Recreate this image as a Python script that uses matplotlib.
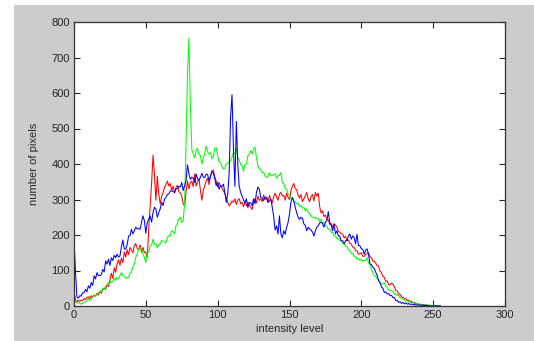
import matplotlib
matplotlib.use("Agg")
import matplotlib.pyplot as plt
from matplotlib.patches import Rectangle
import numpy as np

# per-level pixel counts for each colour channel (levels 0..255)
red = [
    40, 18, 12, 16, 13, 17, 15, 21, 18, 24,
    26, 21, 29, 25, 31, 27, 36, 31, 40, 36,
    45, 51, 47, 60, 55, 72, 92, 78, 108, 95,
    118, 130, 115, 135, 122, 152, 138, 158, 145, 165,
    158, 150, 170, 176, 162, 158, 172, 152, 165, 150,
    152, 138, 215, 280, 345, 425, 370, 298, 366, 315,
    288, 308, 320, 334, 342, 352, 338, 345, 325, 338,
    318, 334, 340, 322, 318, 310, 288, 282, 322, 352,
    330, 348, 352, 336, 372, 338, 350, 358, 326, 298,
    325, 338, 352, 360, 342, 368, 375, 383, 364, 352,
    335, 348, 338, 332, 325, 316, 305, 292, 282, 288,
    296, 292, 302, 286, 298, 302, 288, 292, 280, 295,
    282, 292, 285, 278, 272, 292, 302, 290, 310, 298,
    302, 294, 313, 300, 306, 292, 312, 298, 290, 308,
    318, 306, 298, 315, 320, 310, 312, 298, 318, 306,
    300, 325, 337, 345, 330, 328, 312, 304, 314, 294,
    302, 310, 320, 302, 294, 308, 314, 296, 320, 310,
    318, 280, 262, 268, 252, 256, 244, 242, 230, 232,
    222, 232, 228, 222, 210, 208, 204, 202, 192, 196,
    184, 186, 176, 175, 166, 165, 156, 155, 146, 147,
    150, 140, 140, 145, 148, 150, 138, 137, 126, 126,
    121, 114, 113, 98, 94, 83, 80, 70, 71, 60,
    59, 64, 62, 54, 43, 42, 34, 32, 25, 25,
    21, 20, 16, 16, 12, 13, 9, 10, 7, 6,
    5, 5, 4, 4, 3, 3, 2, 2, 2, 1,
    1, 1, 1, 0, 0, 0,
]

green = [
    15, 12, 10, 9, 8, 5, 7, 10, 12, 14,
    22, 16, 21, 24, 30, 27, 33, 35, 42, 40,
    50, 46, 56, 58, 67, 64, 70, 68, 80, 72,
    80, 76, 86, 94, 86, 84, 78, 80, 80, 92,
    97, 110, 118, 137, 146, 160, 165, 162, 146, 137,
    122, 150, 152, 170, 172, 188, 174, 175, 164, 172,
    175, 185, 183, 180, 178, 192, 198, 198, 212, 210,
    203, 226, 232, 246, 250, 235, 240, 290, 459, 656,
    755, 571, 440, 428, 418, 438, 444, 426, 424, 400,
    418, 428, 450, 434, 428, 432, 414, 422, 444, 446,
    424, 406, 405, 392, 386, 388, 400, 402, 406, 408,
    420, 432, 428, 446, 418, 412, 398, 395, 380, 398,
    400, 424, 426, 438, 428, 442, 448, 418, 396, 386,
    385, 376, 377, 366, 362, 364, 376, 368, 368, 370,
    372, 360, 367, 368, 376, 348, 344, 332, 328, 316,
    312, 303, 302, 294, 294, 288, 289, 280, 283, 276,
    277, 268, 274, 263, 262, 253, 250, 250, 247, 248,
    247, 238, 244, 234, 234, 226, 224, 216, 216, 208,
    207, 198, 197, 190, 190, 184, 184, 176, 176, 168,
    167, 158, 157, 148, 148, 140, 140, 132, 134, 128,
    132, 126, 128, 128, 136, 122, 118, 103, 94, 86,
    84, 76, 75, 66, 61, 63, 66, 56, 52, 44,
    44, 43, 42, 33, 35, 29, 30, 23, 24, 18,
    18, 14, 14, 11, 12, 9, 10, 7, 8, 5,
    5, 4, 4, 3, 3, 3, 2, 2, 1, 1,
    1, 1, 0, 0, 0, 0,
]

blue = [
    190, 100, 25, 22, 29, 28, 37, 38, 47, 40,
    57, 50, 66, 58, 85, 76, 94, 86, 85, 88,
    103, 96, 127, 118, 132, 114, 136, 128, 143, 136,
    146, 138, 141, 167, 186, 161, 160, 173, 197, 198,
    216, 203, 212, 222, 217, 218, 216, 236, 254, 240,
    205, 235, 245, 254, 236, 263, 278, 273, 250, 263,
    273, 292, 283, 301, 306, 314, 316, 324, 325, 322,
    320, 330, 330, 337, 335, 348, 325, 339, 353, 398,
    372, 357, 363, 360, 348, 372, 358, 354, 363, 374,
    363, 362, 372, 370, 353, 364, 381, 374, 358, 339,
    348, 329, 339, 337, 343, 320, 292, 315, 374, 534,
    595, 440, 337, 520, 400, 337, 320, 310, 298, 292,
    302, 277, 292, 290, 283, 302, 288, 320, 335, 329,
    306, 304, 297, 307, 306, 292, 296, 302, 278, 252,
    214, 226, 203, 254, 203, 192, 212, 202, 222, 235,
    259, 292, 306, 296, 278, 263, 250, 244, 250, 247,
    231, 227, 212, 222, 217, 214, 208, 197, 212, 222,
    226, 234, 236, 232, 222, 237, 240, 266, 236, 227,
    212, 230, 203, 212, 198, 197, 184, 184, 175, 184,
    184, 197, 203, 188, 198, 192, 175, 202, 170, 170,
    161, 160, 146, 157, 161, 146, 118, 117, 109, 106,
    95, 87, 71, 66, 53, 50, 38, 40, 34, 35,
    29, 30, 24, 24, 15, 16, 10, 12, 7, 10,
    6, 9, 5, 7, 4, 6, 3, 5, 2, 4,
    2, 3, 1, 3, 1, 2, 1, 1, 0, 0,
    0, 0, 0, 0, 0, 0,
]

levels = np.arange(len(red))

plt.rcParams['font.family'] = ['Liberation Sans', 'DejaVu Sans']

fig = plt.figure(figsize=(5.34, 3.41), dpi=100, facecolor='white')
# grey figure panel, leaving a thin white margin on the left and top
fig.patches.append(Rectangle((14 / 534, 0), 1, 1 - 5 / 341,
                             transform=fig.transFigure, facecolor='#cccccc',
                             edgecolor='none', zorder=-10))

ax = fig.add_axes([74 / 534, 35 / 341, 431 / 534, 284 / 341])
ax.set_facecolor('white')

ax.plot(levels, red, color='#ff0000', lw=0.75)
ax.plot(levels, green, color='#00ff00', lw=0.75)
ax.plot(levels, blue, color='#0000ff', lw=0.75)

ax.set_xlim(0, 300)
ax.set_ylim(0, 800)
ax.set_xticks(range(0, 301, 50))
ax.set_yticks(range(0, 801, 100))

ax.tick_params(direction='in', length=4, width=0.8, top=True, right=True,
               labelsize=8, colors='#262626', pad=3)
for sp in ax.spines.values():
    sp.set_linewidth(0.9)
    sp.set_color('#333333')

ax.set_xlabel('intensity level', fontsize=8, color='#262626', labelpad=3)
ax.set_ylabel('number of pixels', fontsize=8, color='#262626', labelpad=9)

fig.savefig('out.png', dpi=100, facecolor=fig.get_facecolor())
